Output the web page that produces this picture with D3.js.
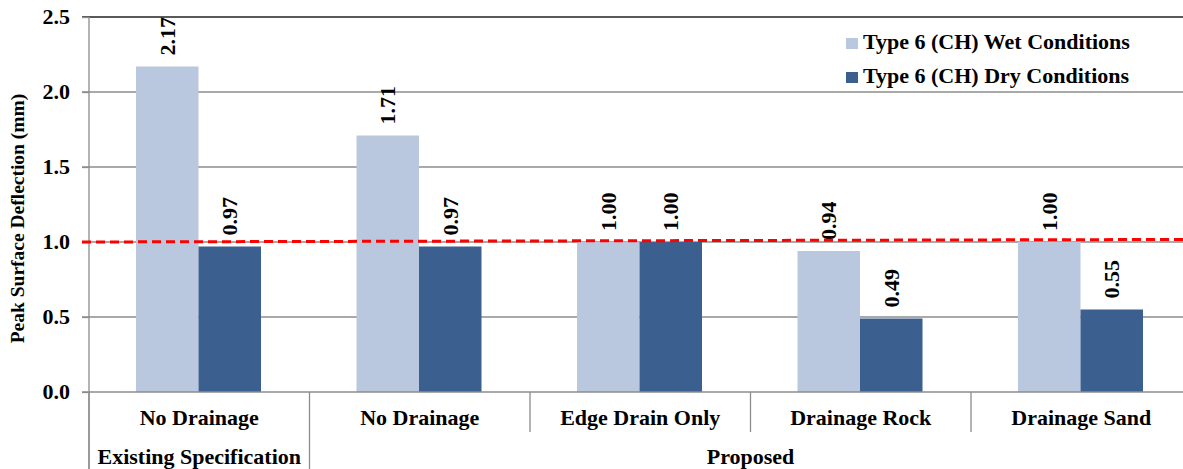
<!DOCTYPE html>
<html>
<head>
<meta charset="utf-8">
<script src="https://cdn.jsdelivr.net/npm/d3@7"></script>
</head>
<body style="margin:0; background:#fff">
<div id="chart"></div>
<script>
const categories = ["No Drainage", "No Drainage ", "Edge Drain Only", "Drainage Rock", "Drainage Sand"];
const groups = [
  { label: "Existing Specification", span: 1 },
  { label: "Proposed", span: 4 },
];
const seriesNames = ["Type 6 (CH) Wet Conditions", "Type 6 (CH) Dry Conditions"];
const wetValues = [2.17, 1.71, 1.0, 0.94, 1.0];
const dryValues = [0.97, 0.97, 1.0, 0.49, 0.55];
const yTicks = [0, 0.5, 1.0, 1.5, 2.0, 2.5];
const limitLine = [1.0, 1.017]; // red dashed reference, left end and right end

const w = 1183, h = 469;
const m = { top: 17, left: 89, bottom: 392, right: 1191.5 };
const colors = ["#b9c7df", "#3b5f8e"];
const serif = '"Liberation Serif"';

const svg = d3.select("#chart").append("svg")
  .attr("width", w).attr("height", h)
  .style("display", "block");

const y = d3.scaleLinear().domain([0, 2.5]).range([m.bottom, m.top]);
const x = d3.scaleBand().domain(categories).range([m.left, m.right]);
const xs = d3.scaleBand().domain(seriesNames).range([47, 172]);

function txt(sel, size) {
  return sel.style("font-family", serif).style("font-weight", "bold").style("font-size", size + "px").attr("fill", "#000");
}

// gridlines
svg.append("g")
  .selectAll("line")
  .data(yTicks.slice(1, -1))
  .join("line")
  .attr("x1", m.left - 7).attr("x2", w)
  .attr("y1", (d) => y(d)).attr("y2", (d) => y(d))
  .attr("stroke", "#8c8c8c").attr("stroke-width", 1.3);

// top border
svg.append("line")
  .attr("x1", m.left - 7).attr("x2", w)
  .attr("y1", y(2.5)).attr("y2", y(2.5))
  .attr("stroke", "#222").attr("stroke-width", 1.6);

// y axis
const yAxis = svg.append("g")
  .attr("transform", `translate(${m.left},0)`)
  .call(d3.axisLeft(y).tickValues(yTicks).tickFormat(d3.format(".1f")).tickSizeInner(7).tickSizeOuter(0).tickPadding(12));
yAxis.select(".domain").remove();
yAxis.selectAll(".tick line").attr("stroke", "#8c8c8c").attr("stroke-width", 1.3);
txt(yAxis.selectAll(".tick text"), 22).attr("dy", "0.3em");

svg.append("line")
  .attr("x1", m.left).attr("x2", m.left)
  .attr("y1", y(2.5)).attr("y2", h)
  .attr("stroke", "#8c8c8c").attr("stroke-width", 1.3);

txt(svg.append("text"), 19.5)
  .attr("transform", `translate(24,${(95 + 342) / 2}) rotate(-90)`)
  .attr("text-anchor", "middle")
  .text("Peak Surface Deflection (mm)");

// bars
const rows = categories.map((c, i) => ({ cat: c, vals: [wetValues[i], dryValues[i]] }));
const grp = svg.append("g")
  .selectAll("g")
  .data(rows)
  .join("g")
  .attr("transform", (d) => `translate(${x(d.cat)},0)`);

grp.selectAll("rect")
  .data((d) => d.vals.map((v, i) => ({ s: seriesNames[i], v, i })))
  .join("rect")
  .attr("x", (d) => xs(d.s))
  .attr("width", xs.bandwidth())
  .attr("y", (d) => y(d.v))
  .attr("height", (d) => y(0) - y(d.v))
  .attr("fill", (d) => colors[d.i]);

// red dashed limit line
const xr = d3.scaleLinear().domain([0, 1]).range([m.left - 7, w]);
svg.append("line")
  .attr("x1", xr(0)).attr("x2", xr(1))
  .attr("y1", y(limitLine[0])).attr("y2", y(limitLine[1]))
  .attr("stroke", "#ff0000").attr("stroke-width", 3)
  .attr("stroke-dasharray", "9,5");

// value labels
txt(grp.selectAll("text")
  .data((d) => d.vals.map((v, i) => ({ s: seriesNames[i], v })))
  .join("text"), 22)
  .attr("transform", (d) => `translate(${xs(d.s) + xs.bandwidth() / 2 + 7.5},${y(d.v) - 11}) rotate(-90)`)
  .text((d) => d.v.toFixed(2));

// x axis line
svg.append("line")
  .attr("x1", m.left - 7).attr("x2", w)
  .attr("y1", y(0)).attr("y2", y(0))
  .attr("stroke", "#8c8c8c").attr("stroke-width", 1.3);

// category separators
const bounds = categories.map((c) => x(c)).concat([x(categories[4]) + x.bandwidth()]);
let acc = 0;
const groupEdges = [0];
groups.forEach((g) => { acc += g.span; groupEdges.push(acc); });
svg.append("g")
  .selectAll("line")
  .data(bounds)
  .join("line")
  .attr("x1", (d) => d).attr("x2", (d) => d)
  .attr("y1", y(0))
  .attr("y2", (d, i) => (groupEdges.includes(i) ? h : 432))
  .attr("stroke", "#8c8c8c").attr("stroke-width", 1.3);

txt(svg.append("g")
  .selectAll("text")
  .data(categories)
  .join("text"), 22)
  .attr("x", (d) => x(d) + x.bandwidth() / 2)
  .attr("y", 425)
  .attr("text-anchor", "middle")
  .text((d) => d.trim());

txt(svg.append("g")
  .selectAll("text")
  .data(groups)
  .join("text"), 22)
  .attr("x", (d, i) => (bounds[groupEdges[i]] + bounds[groupEdges[i + 1]]) / 2)
  .attr("y", 464)
  .attr("text-anchor", "middle")
  .text((d) => d.label);

// legend
const lg = svg.append("g").attr("transform", "translate(846,0)");
const li = lg.selectAll("g")
  .data(seriesNames)
  .join("g")
  .attr("transform", (d, i) => `translate(0,${49 + i * 34})`);
li.append("rect").attr("x", 0).attr("y", -11).attr("width", 12).attr("height", 11).attr("fill", (d, i) => colors[i]);
txt(li.append("text"), 22).attr("x", 17).attr("y", 0).text((d) => d);
</script>
</body>
</html>
